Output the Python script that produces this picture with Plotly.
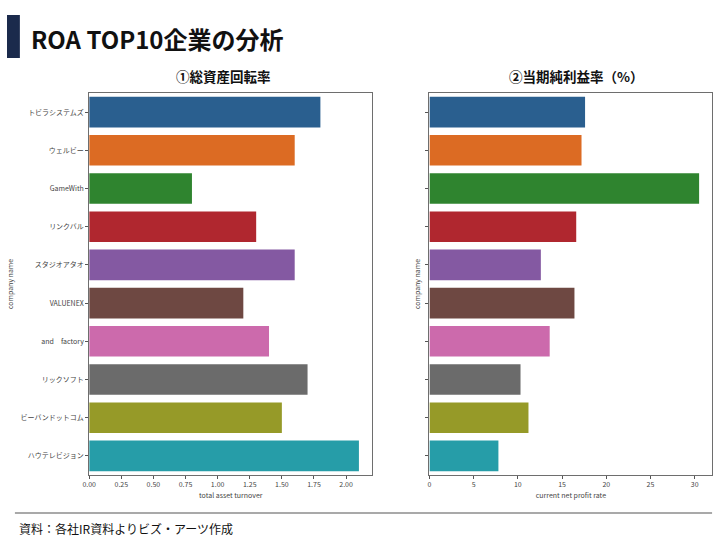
import plotly.graph_objects as go

companies = ["トビラシステムズ", "ウェルビー", "GameWith", "リンクバル", "スタジオアタオ",
             "VALUENEX", "and　factory", "リックソフト", "ビーバンドットコム", "ハウテレビジョン"]
asset_turnover = [1.80, 1.60, 0.80, 1.30, 1.60, 1.20, 1.40, 1.70, 1.50, 2.10]
net_profit_rate = [17.6, 17.2, 30.5, 16.6, 12.6, 16.4, 13.6, 10.3, 11.2, 7.8]
bar_colors = ["#2a5f8f", "#dc6b23", "#2f842f", "#b0272f", "#8459a2",
              "#6e4842", "#cc6aac", "#6b6b6b", "#969a28", "#269da8"]

FONT = "Noto Sans CJK JP"

fig = go.Figure()
fig.add_trace(go.Bar(x=asset_turnover, y=companies, orientation="h",
                     marker=dict(color=bar_colors, line=dict(width=0)),
                     xaxis="x", yaxis="y", showlegend=False))
fig.add_trace(go.Bar(x=net_profit_rate, y=companies, orientation="h",
                     marker=dict(color=bar_colors, line=dict(width=0)),
                     xaxis="x2", yaxis="y2", showlegend=False))

axis_common = dict(showline=True, mirror=True, linecolor="#6e6e6e", linewidth=1,
                   showgrid=False, zeroline=False, ticks="outside", ticklen=3,
                   tickcolor="#555", tickfont=dict(family=FONT, size=7, color="#444"))

top = 1 - 93 / 540
bottom = 1 - 475 / 540

fig.update_layout(
    width=720, height=540,
    margin=dict(l=0, r=0, t=0, b=0),
    paper_bgcolor="white", plot_bgcolor="white",
    bargap=0.2,
    font=dict(family=FONT),
    xaxis=dict(domain=[83 / 720, 369 / 720], range=[0, 2.205], tickvals=[0, 0.25, 0.5, 0.75, 1.0, 1.25, 1.5, 1.75, 2.0],
               tickformat=".2f", anchor="y",
               title=dict(text="total asset turnover", font=dict(family=FONT, size=7, color="#444"), standoff=4),
               **axis_common),
    yaxis=dict(domain=[bottom, top], categoryorder="array", categoryarray=companies,
               autorange="reversed", anchor="x",
               title=dict(text="company name", font=dict(family=FONT, size=7, color="#444"), standoff=6),
               **axis_common),
    xaxis2=dict(domain=[426.6 / 720, 712.3 / 720], range=[0, 32.0], tickvals=[0, 5, 10, 15, 20, 25, 30],
                anchor="y2",
                title=dict(text="current net profit rate", font=dict(family=FONT, size=7, color="#444"), standoff=4),
                **axis_common),
    yaxis2=dict(domain=[bottom, top], categoryorder="array", categoryarray=companies,
                autorange="reversed", anchor="x2", showticklabels=False,
                title=dict(text="company name", font=dict(family=FONT, size=7, color="#444"), standoff=4),
                **axis_common),
    shapes=[
        dict(type="rect", xref="paper", yref="paper", x0=0, x1=13 / 720,
             y0=1 - 58 / 540, y1=1 - 15 / 540, fillcolor="#1b2a4c", line=dict(width=0)),
        dict(type="line", xref="paper", yref="paper", x0=8 / 720, x1=712 / 720,
             y0=1 - 513 / 540, y1=1 - 513 / 540, line=dict(color="#555", width=1.2)),
    ],
    annotations=[
        dict(text="<b>ROA TOP10企業の分析</b>", xref="paper", yref="paper",
             x=22 / 720, y=1 - 38 / 540, xanchor="left", yanchor="middle", showarrow=False,
             font=dict(family=FONT, size=24, color="#111")),
        dict(text="<b>①総資産回転率</b>", xref="paper", yref="paper",
             x=219 / 720, y=1 - 76 / 540, xanchor="center", yanchor="middle", showarrow=False,
             font=dict(family=FONT, size=13.5, color="#111")),
        dict(text="<b>②当期純利益率（%）</b>", xref="paper", yref="paper",
             x=575 / 720, y=1 - 76 / 540, xanchor="center", yanchor="middle", showarrow=False,
             font=dict(family=FONT, size=13.5, color="#111")),
        dict(text="資料：各社IR資料よりビズ・アーツ作成", xref="paper", yref="paper",
             x=10 / 720, y=1 - 528 / 540, xanchor="left", yanchor="middle", showarrow=False,
             font=dict(family=FONT, size=12, color="#111")),
    ],
)

fig.write_html(
    "out.html",
    config={"displayModeBar": False, "responsive": False},
    post_script="document.body.style.margin='0';document.body.style.padding='0';"
                "document.documentElement.style.overflow='hidden';document.body.style.overflow='hidden';",
)
